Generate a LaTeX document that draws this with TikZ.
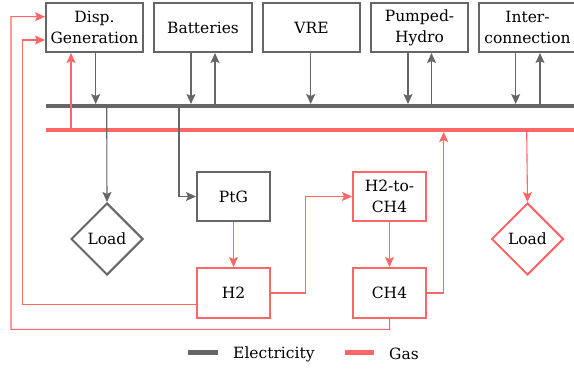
\documentclass[tikz,border=0pt]{standalone}
\usepackage{fontspec}
\setmainfont{DejaVu Serif}
\usetikzlibrary{arrows.meta,shapes.geometric}
\definecolor{elc}{HTML}{666666}
\definecolor{gsc}{HTML}{FF6666}
\tikzset{
  txt/.style={font=\fontsize{15.5}{21}\selectfont},
  box/.style={draw=elc,line width=2pt,fill=white,minimum width=97pt,minimum height=49pt,inner sep=1pt,align=center,txt},
  gbox/.style={box,draw=gsc,minimum width=73pt},
  ebox/.style={box,minimum width=73pt},
  loadbox/.style={diamond,draw=#1,line width=2pt,minimum width=72pt,minimum height=72pt,inner sep=0pt,txt},
  tip/.style={-{Stealth[length=10pt,width=9pt,inset=2pt]}},
  ea/.style={draw=elc,line width=1.1pt},
  ga/.style={draw=gsc,line width=1.1pt},
  ebus/.style={draw=elc,line width=4.5pt},
  gbus/.style={draw=gsc,line width=4.5pt},
  leg/.style={txt,anchor=west,inner sep=0pt}
}
\begin{document}
\begin{tikzpicture}[x=1pt,y=-1pt]
\useasboundingbox (0,0) rectangle (574,369);
\clip (0,0) rectangle (574,369);
\fill[white] (0,0) rectangle (574,369);
% buses
\coordinate (ebL) at (46,106);
\coordinate (ebR) at (580,106);
\coordinate (gbL) at (46,130);
\coordinate (gbR) at (580,130);
\draw[ebus] (ebL) -- (ebR);
\draw[gbus] (gbL) -- (gbR);
% top boxes
\node[box] (dg) at (94.5,27.5) {Disp.\\Generation};
\node[box,minimum width=98pt] (bat) at (203,27.5) {Batteries};
\node[box] (vre) at (311.5,27.5) {VRE};
\node[box] (ph) at (419.5,27.5) {Pumped-\\Hydro};
\node[box] (ic) at (527.5,27.5) {Inter-\\connection};
% lower nodes
\node[ebox] (ptg) at (233.5,196.5) {PtG};
\node[gbox,minimum height=50pt] (h2) at (233.5,293) {H2};
\node[gbox] (h2c) at (389.5,196.5) {H2-to-\\CH4};
\node[gbox,minimum height=50pt] (ch4) at (389.5,293) {CH4};
\node[loadbox=elc] (le) at (107,239) {Load};
\node[loadbox=gsc] (lg) at (527.5,239) {Load};
% bus coordinates
\coordinate (e1) at (95.7,104);
\coordinate (e2) at (191,104);
\coordinate (e3) at (215,104);
\coordinate (e4) at (310.7,104);
\coordinate (e5) at (408,104);
\coordinate (e6) at (431.5,104);
\coordinate (e7) at (515.7,104);
\coordinate (e8) at (540,104);
\coordinate (g1) at (71,128);
\coordinate (e9) at (106.7,108);
\coordinate (e10) at (179,108);
\coordinate (g2) at (443.7,132);
\coordinate (g3) at (526.7,132);
% electricity arrows
\draw[ea,tip] (dg.south -| e1) -- (e1);
\draw[ea,tip] (bat.south -| e2) -- (e2);
\draw[ea,tip] (e3) -- (bat.south -| e3);
\draw[ea,tip] (vre.south -| e4) -- (e4);
\draw[ea,tip] (ph.south -| e5) -- (e5);
\draw[ea,tip] (e6) -- (ph.south -| e6);
\draw[ea,tip] (ic.south -| e7) -- (e7);
\draw[ea,tip] (e8) -- (ic.south -| e8);
\draw[ea,tip] (e9) -- (le.north);
\draw[ea,tip] (e10) |- (ptg.west);
% gas arrows
\draw[ga,tip] (g1) -- (dg.south -| g1);
\draw[ga,tip] (ptg.south) -- (h2.north);
\draw[ga,tip] (h2.east) -- (305.7,293) |- (h2c.west);
\draw[ga,tip] (h2c.south) -- (ch4.north);
\draw[ga,tip] (ch4.east) -| (g2);
\draw[ga,tip] (g3) -- (lg.north);
\draw[ga,tip] (h2.west |- 0,304.3) -- (22.7,304.3) -- (22.7,40) -- (dg.west |- 0,40);
\draw[ga,tip] (ch4.south) -- (389.7,329.3) -- (11,329.3) -- (11,16.7) -- (dg.west |- 0,16.7);
% legend
\coordinate (l1a) at (188,352.7);
\coordinate (l1b) at (218,352.7);
\coordinate (l2a) at (345,352.7);
\coordinate (l2b) at (374,352.7);
\draw[ebus] (l1a) -- (l1b);
\draw[gbus] (l2a) -- (l2b);
\node[leg] (lt1) at (233,354) {Electricity};
\node[leg] (lt2) at (389,354) {Gas};
\end{tikzpicture}
\end{document}
